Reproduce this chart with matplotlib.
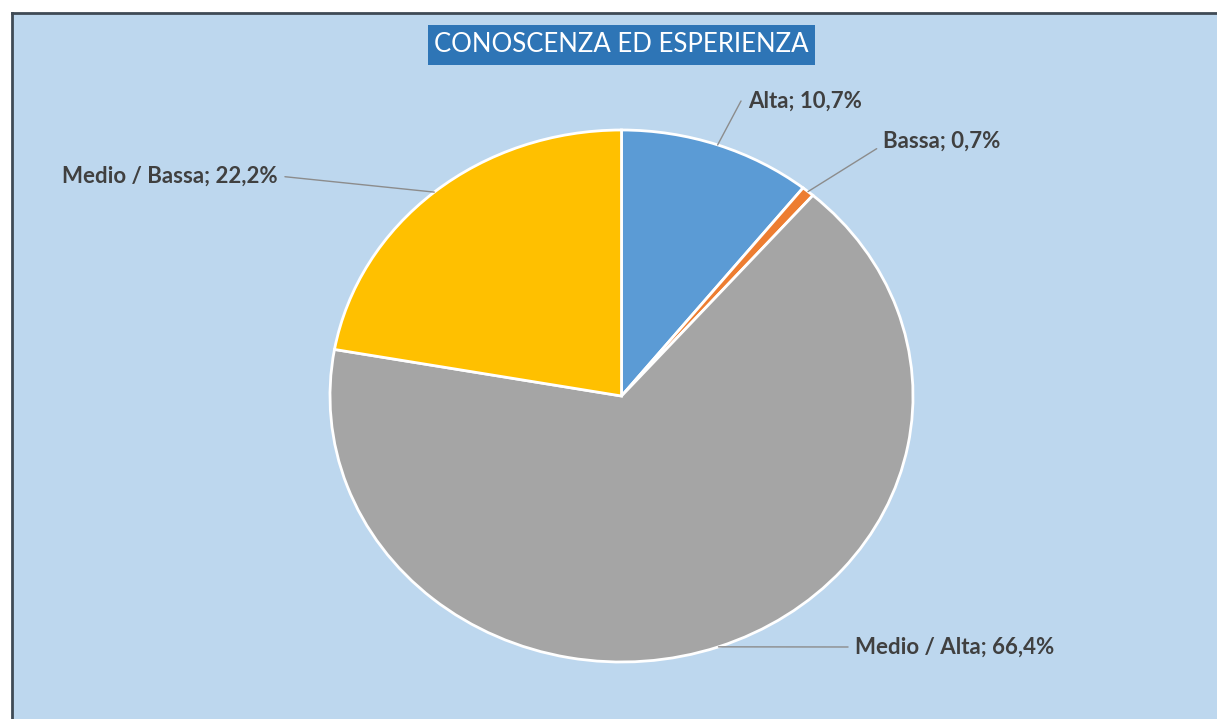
import matplotlib.pyplot as plt
from matplotlib.patches import Rectangle
import numpy as np

# chart data
labels = ['Alta', 'Bassa', 'Medio / Alta', 'Medio / Bassa']
values = [10.7, 0.7, 66.4, 22.2]
colors = ['#5B9BD5', '#ED7D31', '#A5A5A5', '#FFC000']
title = 'CONOSCENZA ED ESPERIENZA'

W, H = 1217, 719
fig = plt.figure(figsize=(W / 100, H / 100), dpi=100, facecolor='white')

def fx(x):
    return x / W

def fy(y):
    return 1 - y / H

# chart area background + border (top and left visible)
fig.add_artist(Rectangle((fx(12), 0), 1 - fx(12), fy(13), transform=fig.transFigure,
                         facecolor='#BDD7EE', edgecolor='none', zorder=0))
fig.add_artist(plt.Line2D([fx(12), fx(12)], [0, fy(13)], transform=fig.transFigure,
                          color='#3f4a55', lw=2, zorder=1))
fig.add_artist(plt.Line2D([fx(12), 1], [fy(13), fy(13)], transform=fig.transFigure,
                          color='#3f4a55', lw=2, zorder=1))

# title box
fig.add_artist(Rectangle((fx(428), fy(65)), fx(815) - fx(428), fy(25) - fy(65),
                         transform=fig.transFigure, facecolor='#2E75B6', edgecolor='none', zorder=2))
fig.text(fx(621.5), fy(45), title, color='white', fontsize=18.5, family='Lato',
         ha='center', va='center', zorder=3)

# pie (stretched to an ellipse like the original)
ax = fig.add_axes([fx(330), fy(662), fx(913) - fx(330), fy(130) - fy(662)])
wedges, _ = ax.pie(values, colors=colors, startangle=90, counterclock=False,
                   wedgeprops=dict(edgecolor='white', linewidth=2))
ax.set_aspect('auto')
ax.set_xlim(-1, 1)
ax.set_ylim(-1, 1)
ax.axis('off')

# data labels: text position (pixels from top-left), alignment, leader style
label_pos = [(748, 101, 'left', 'angle,angleA=0,angleB=62,rad=0'),
             (883, 141, 'left', 'angle,angleA=0,angleB=32,rad=0'),
             (855, 647, 'left', 'arc3'),
             (278, 176, 'right', 'arc3')]

for w, lab, v, (tx, ty, ha, cs) in zip(wedges, labels, values, label_pos):
    ang = np.deg2rad((w.theta1 + w.theta2) / 2)
    txt = f'{lab}; {v:.1f}%'.replace('.', ',')
    ax.annotate(txt, xy=(np.cos(ang), np.sin(ang)), xycoords='data',
                xytext=(tx, H - ty), textcoords='figure pixels',
                ha=ha, va='center', fontsize=16, fontweight='bold',
                family='Lato', color='#404040',
                arrowprops=dict(arrowstyle='-', color='#8c8c8c', lw=1,
                                shrinkA=3, shrinkB=0, connectionstyle=cs,
                                relpos=(0 if ha == 'left' else 1, 0.5)))

fig.savefig('out.png', dpi=100, facecolor='white')
